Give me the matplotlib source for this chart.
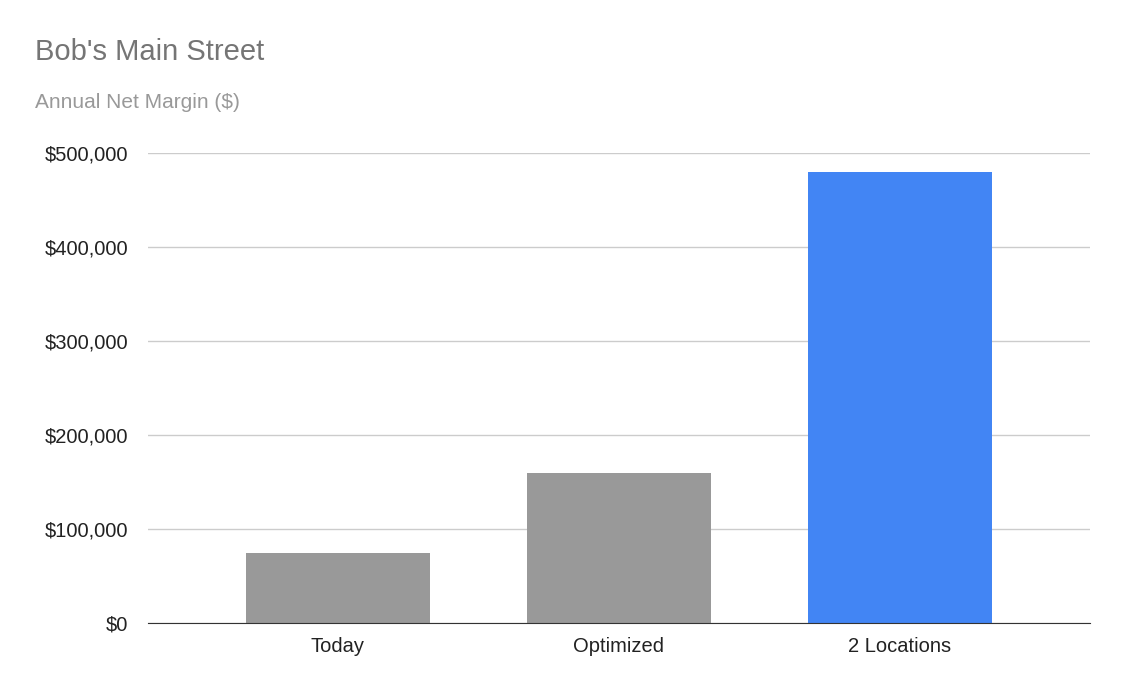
import matplotlib
matplotlib.use("Agg")
import matplotlib.pyplot as plt
from matplotlib.ticker import FuncFormatter

categories = ["Today", "Optimized", "2 Locations"]
values = [75000, 160000, 480000]
colors = ["#999999", "#999999", "#4285f4"]
yticks = [0, 100000, 200000, 300000, 400000, 500000]

plt.rcParams['font.family'] = ['Liberation Sans', 'DejaVu Sans']
fig = plt.figure(figsize=(11.26, 6.94), dpi=100)
ax = fig.add_axes([148/1126, 1-623/694, (1090-148)/1126, (623-153)/694])
x = range(len(categories))
ax.bar(x, values, width=0.655, color=colors, zorder=3)
ax.set_xlim(-0.676, 2.676)
ax.set_ylim(0, 500000)
ax.set_yticks(yticks)
ax.yaxis.set_major_formatter(FuncFormatter(lambda v, p: f"${int(v):,}"))
ax.set_xticks(list(x))
ax.set_xticklabels(categories)
ax.grid(axis='y', color='#cccccc', linewidth=1, zorder=0)
for s in ['top', 'right', 'left']:
    ax.spines[s].set_visible(False)
ax.spines['bottom'].set_color('#333333')
ax.spines['bottom'].set_zorder(4)
ax.tick_params(axis='both', length=0, labelsize=14.5, colors='#222222')
ax.tick_params(axis='y', pad=14)
ax.tick_params(axis='x', pad=10)
fig.text(35/1126, 1-52/694, "Bob's Main Street", fontsize=21, color='#757575', va='center')
fig.text(35/1126, 1-103/694, "Annual Net Margin ($)", fontsize=15, color='#999999', va='center')
fig.savefig("out.png", dpi=100)
